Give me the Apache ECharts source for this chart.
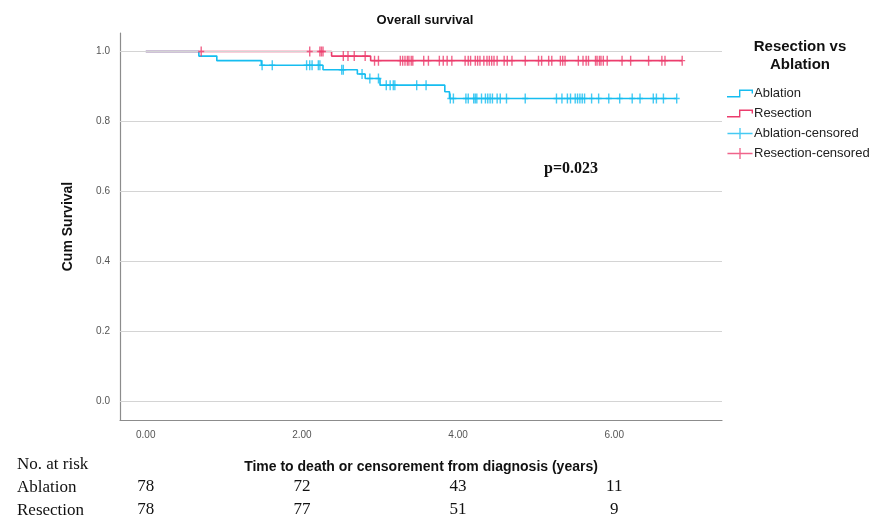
<!DOCTYPE html>
<html>
<head>
    <meta charset="utf-8">
    <title>Overall survival</title>
    <script src="https://cdn.jsdelivr.net/npm/echarts@6/dist/echarts.min.js"></script>
</head>
<style>
html,
body {
    margin: 0px;
    width: 100%;
    height: 100%;
    background: #fff;
}
div#main {
    position: absolute;
    left: 0;
    top: 0;
    width: 871px;
    height: 520px;
}
</style>
<body>
    <div id="main"></div>
    <script type="text/javascript">
        // Kaplan-Meier steps (time in years, cum survival)
        var ablationTimes = [0, 0.68, 0.91, 1.48, 2.27, 2.71, 2.81, 3.00, 3.83, 3.89];
        var ablationSurv = [1, 0.987, 0.974, 0.961, 0.948, 0.936, 0.923, 0.904, 0.885, 0.866];
        var ablationEnd = 6.80;
        var resectionTimes = [0, 2.38, 2.88];
        var resectionSurv = [1, 0.987, 0.974];
        var resectionEnd = 6.87;

        // censoring times
        var ablationCensored = [1.49, 1.62, 2.06, 2.10, 2.13, 2.21, 2.23, 2.51, 2.53, 2.77, 2.87, 2.98,
            3.08, 3.13, 3.17, 3.19, 3.47, 3.59, 3.90, 3.94, 4.10, 4.13, 4.20, 4.22, 4.24, 4.30, 4.35,
            4.38, 4.41, 4.44, 4.50, 4.54, 4.62, 4.86, 5.26, 5.33, 5.40, 5.44, 5.50, 5.53, 5.56, 5.59,
            5.62, 5.71, 5.80, 5.93, 6.07, 6.23, 6.33, 6.50, 6.54, 6.63, 6.80];
        var resectionCensored = [0.71, 2.10, 2.23, 2.25, 2.27, 2.53, 2.59, 2.67, 2.81, 2.93, 2.98,
            3.26, 3.29, 3.32, 3.35, 3.37, 3.40, 3.42, 3.56, 3.62, 3.76, 3.81, 3.86, 3.92, 4.09, 4.13,
            4.16, 4.22, 4.25, 4.28, 4.33, 4.37, 4.40, 4.43, 4.46, 4.50, 4.59, 4.63, 4.69, 4.86, 5.03,
            5.07, 5.16, 5.20, 5.31, 5.34, 5.37, 5.54, 5.60, 5.64, 5.67, 5.76, 5.78, 5.81, 5.83, 5.86,
            5.91, 6.10, 6.21, 6.44, 6.61, 6.65, 6.87];

        // number at risk table
        var riskTimes = [0, 2, 4, 6];
        var riskAblation = [78, 72, 43, 11];
        var riskResection = [78, 77, 51, 9];

        var xTicks = [0, 2, 4, 6];
        var yTicks = [0, 0.2, 0.4, 0.6, 0.8, 1.0];

        var blue = '#16bdf0';
        var red = '#ec3d6d';
        var sans = '"Liberation Sans", Arial, sans-serif';
        var serif = '"Liberation Serif", "Times New Roman", serif';

        function stepData(times, surv, end) {
            var d = [];
            for (var i = 0; i < times.length; i++) d.push([times[i], surv[i]]);
            d.push([end, surv[surv.length - 1]]);
            return d;
        }
        function survAt(times, surv, t) {
            var s = surv[0];
            for (var i = 0; i < times.length; i++) if (times[i] <= t) s = surv[i];
            return s;
        }
        function censorData(cens, times, surv) {
            return cens.map(function (t) { return [t, survAt(times, surv, t)]; });
        }

        var plusMark = 'path://M0,4.3h6v1.4h-6zM2.3,0h1.4v10h-1.4z';
        var stepIcon = 'path://M0,8.6H12V2H26V6H24.6V3.4H13.4V10H0Z';
        var plusIcon = 'path://M0,5H26V6.4H0ZM12.3,0H13.7V11.4H12.3Z';

        var riskAxis = function (offset, values) {
            return {
                type: 'value', gridIndex: 0, position: 'bottom', offset: offset,
                min: -0.33, max: 7.38,
                axisLine: { show: false, onZero: false }, axisTick: { show: false }, splitLine: { show: false },
                axisLabel: {
                    customValues: riskTimes,
                    formatter: function (v) { return String(values[riskTimes.indexOf(v)]); },
                    fontFamily: serif, fontSize: 17, color: '#111', margin: 6
                }
            };
        };

        var myChart = echarts.init(document.getElementById('main'), null, { renderer: 'canvas' });
        myChart.setOption({
            animation: false,
            backgroundColor: '#fff',
            title: {
                text: 'Overall survival', left: 420, top: 9, textAlign: 'center',
                textStyle: { fontFamily: sans, fontSize: 13, fontWeight: 'bold', color: '#111' }
            },
            legend: {
                orient: 'vertical', left: 722, top: 82, itemWidth: 26, itemHeight: 11, itemGap: 7,
                selectedMode: false,
                textStyle: { fontFamily: sans, fontSize: 13, color: '#222', padding: [0, 0, 0, -4] },
                data: [
                    { name: 'Ablation', icon: stepIcon },
                    { name: 'Resection', icon: stepIcon },
                    { name: 'Ablation-censored', icon: plusIcon },
                    { name: 'Resection-censored', icon: plusIcon }
                ]
            },
            grid: { left: 120, right: 149, top: 33, bottom: 100, containLabel: false },
            xAxis: [{
                type: 'value', min: -0.33, max: 7.38,
                name: 'Time to death or censorement from diagnosis (years)',
                nameLocation: 'middle', nameGap: 40,
                nameTextStyle: { fontFamily: sans, fontSize: 14, fontWeight: 'bold', color: '#111' },
                axisLine: { onZero: false, lineStyle: { color: '#8c8c8c', width: 1.2 } },
                axisTick: { show: false },
                splitLine: { show: false },
                axisLabel: {
                    customValues: xTicks, margin: 10,
                    formatter: function (v) { return v.toFixed(2); },
                    fontFamily: sans, fontSize: 10, color: '#555'
                }
            }, riskAxis(52, riskAblation), riskAxis(75, riskResection)],
            yAxis: {
                type: 'value', min: -0.053, max: 1.053,
                name: 'Cum Survival', nameLocation: 'middle', nameGap: 45,
                nameTextStyle: { fontFamily: sans, fontSize: 14, fontWeight: 'bold', color: '#111' },
                axisLine: { show: true, onZero: false, lineStyle: { color: '#8c8c8c', width: 1.2 } },
                axisTick: { show: false },
                splitLine: { show: false },
                axisLabel: {
                    customValues: yTicks, margin: 10,
                    formatter: function (v) { return v.toFixed(1); },
                    fontFamily: sans, fontSize: 10, color: '#555'
                }
            },
            series: [
                {
                    name: 'Grid', type: 'line', data: [], silent: true,
                    markLine: {
                        silent: true, symbol: 'none', label: { show: false },
                        lineStyle: { color: '#d4d4d4', width: 1.2, type: 'solid' },
                        data: yTicks.map(function (v) { return { yAxis: v }; })
                    }
                },
                {
                    name: 'Ablation', type: 'line', step: 'end', showSymbol: false, color: blue,
                    lineStyle: { width: 1.6 }, data: stepData(ablationTimes, ablationSurv, ablationEnd), z: 3
                },
                {
                    name: 'Resection', type: 'line', step: 'end', showSymbol: false, color: red,
                    lineStyle: { width: 1.6 }, data: stepData(resectionTimes, resectionSurv, resectionEnd), z: 4
                },
                {
                    name: 'Ablation-censored', type: 'scatter', symbol: plusMark, symbolSize: [6, 10],
                    color: blue, data: censorData(ablationCensored, ablationTimes, ablationSurv), z: 5
                },
                {
                    name: 'Resection-censored', type: 'scatter', symbol: plusMark, symbolSize: [6, 10],
                    color: red, data: censorData(resectionCensored, resectionTimes, resectionSurv), z: 6
                }
            ],
            graphic: [
                {
                    type: 'text', x: 800, y: 38,
                    style: {
                        text: 'Resection vs\nAblation', align: 'center', lineHeight: 18,
                        fontFamily: sans, fontSize: 15, fontWeight: 'bold', fill: '#111'
                    }
                },
                {
                    type: 'text', left: 544, top: 161,
                    style: { text: 'p=0.023', fontFamily: serif, fontSize: 16, fontWeight: 'bold', fill: '#111' }
                },
                {
                    type: 'text', left: 17, top: 456,
                    style: { text: 'No. at risk', fontFamily: serif, fontSize: 17, fill: '#111' }
                },
                {
                    type: 'text', left: 17, top: 479,
                    style: { text: 'Ablation', fontFamily: serif, fontSize: 17, fill: '#111' }
                },
                {
                    type: 'text', left: 17, top: 502,
                    style: { text: 'Resection', fontFamily: serif, fontSize: 17, fill: '#111' }
                }
            ]
        });
    </script>
</body>
</html>
